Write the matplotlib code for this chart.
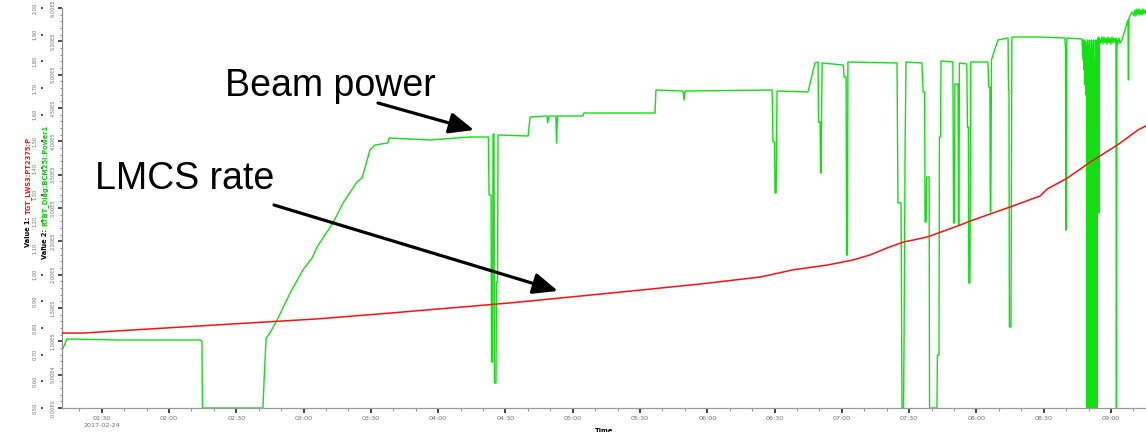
import matplotlib
matplotlib.use("Agg")
import matplotlib.pyplot as plt
from matplotlib.ticker import MultipleLocator, FixedLocator, FuncFormatter

# Time axis is minutes after midnight on 2017-02-24
time_ticks = ["01:30", "02:00", "02:30", "03:00", "03:30", "04:00", "04:30", "05:00",
              "05:30", "06:00", "06:30", "07:00", "07:30", "08:00", "08:30", "09:00"]
date_label = "2017-02-24"
t_min, t_max = 72.3, 555.6

# Value 1: TGT_LWS3:PT2375:P (LMCS rate, red)
rate_t = [72.3, 81.7, 96.8, 126.3, 156.1, 186.0, 218.5, 245.3, 272.0, 298.8,
          330.0, 356.8, 383.5, 398.2, 413.4, 425.0, 432.6, 440.1, 447.3, 458.0,
          472.7, 478.5, 493.7, 508.4, 511.5, 520.5, 530.7, 542.8, 552.1, 555.6]
rate_v = [0.781, 0.781, 0.789, 0.804, 0.819, 0.834, 0.856, 0.875, 0.894, 0.916,
          0.942, 0.965, 0.991, 1.018, 1.036, 1.055, 1.074, 1.100, 1.122, 1.141,
          1.186, 1.205, 1.250, 1.295, 1.321, 1.362, 1.422, 1.486, 1.543, 1.558]

# Value 2: RTBT_Diag:BCM25I:Power1 (beam power, green)
power_t = [
    72.3, 73.2, 74.5, 98.2, 133.8, 134.7, 134.9, 161.9, 162.4, 163.3,
    165.0, 168.2, 174.0, 179.7, 183.8, 186.0, 193.1, 197.6, 203.8, 206.1,
    209.6, 211.8, 217.6, 218.1, 236.4, 254.2,
    262.4, 262.7, 263.6, 263.8, 264.2, 264.5, 264.9, 265.1, 265.8, 266.0, 266.5, 266.7,
    280.1, 281.0, 288.6, 288.8, 289.4, 292.5, 292.8, 293.2, 304.6, 305.0, 336.7, 337.1,
    349.2, 349.6, 350.1, 388.9, 389.3, 390.0, 390.2, 390.7, 391.1,
    404.9, 406.7, 408.0, 409.4, 409.6, 410.3, 410.5, 410.7, 411.2,
    420.6, 421.0, 421.9, 422.1, 422.5, 422.7,
    444.6, 445.0, 446.4, 446.8, 447.5, 447.7, 448.2, 448.6,
    455.7, 456.2, 456.9, 457.1, 457.6, 457.8, 458.9, 459.1, 462.4, 462.6, 463.3, 463.5, 464.0, 464.2,
    469.5, 469.8, 470.2, 470.4, 471.8, 472.0, 472.2, 472.4,
    475.7, 476.0, 476.4, 476.6, 477.1, 477.5,
    485.1, 485.5, 486.0, 486.2, 486.4, 486.7, 487.8, 489.6,
    494.1, 494.3, 494.5, 494.7, 495.4, 495.8, 508.3,
    519.4, 519.7, 519.9, 520.1, 520.3,
    527.05, 527.50, 527.72, 527.94, 528.17, 528.39, 528.61, 528.84, 529.06, 529.28,
    529.50, 529.73, 529.95, 530.17, 530.40, 530.62, 530.84, 531.07, 531.29, 531.51,
    531.73, 531.96, 532.18, 532.40, 532.63, 532.85, 533.07, 533.30, 533.52, 533.74,
    533.96, 534.19,
    534.40, 534.62, 534.85, 535.52, 535.96, 536.41, 536.85, 537.30, 537.74, 538.19,
    538.63, 539.08, 539.53, 539.97, 540.42, 540.86, 541.31, 541.76, 542.20, 542.42,
    542.65, 543.09, 543.54, 543.99, 544.88, 546.22, 547.55, 547.78, 548.00, 549.34,
    550.23, 550.68, 551.12, 551.57, 552.02, 552.46, 552.91, 553.36, 553.80, 554.25,
    554.69, 555.14, 555.59,
]
power_v = [
    87000, 93000, 103500, 102000, 102000, 100500, 0, 0, 42000, 105000,
    112500, 132000, 172500, 207000, 225000, 241500, 277500, 307500, 339000, 345000,
    387000, 394500, 397500, 405000, 402000, 406500,
    406500, 319500, 319500, 69000, 69000, 411000, 411000, 37500, 37500, 189000, 189000, 409500,
    408000, 436500, 438000, 427500, 438000, 438000, 397500, 438000, 438000, 442500, 442500, 477000,
    475500, 462000, 475500, 477000, 399000, 399000, 322500, 322500, 475500,
    474000, 499500, 517500, 519000, 429000, 429000, 352500, 352500, 517500,
    514500, 496500, 496500, 229500, 229500, 519000,
    517500, 307500, 307500, 0, 0, 84000, 394500, 519000,
    517500, 474000, 474000, 279000, 279000, 346500, 346500, 0, 0, 79500, 79500, 406500, 406500, 520500,
    519000, 277500, 277500, 486000, 486000, 274500, 274500, 517500,
    516000, 421500, 421500, 187500, 187500, 519000,
    519000, 481500, 481500, 294000, 294000, 522000, 534000, 552000,
    555000, 477000, 477000, 121500, 121500, 556500, 556500,
    555000, 540000, 267000, 267000, 555000,
    553500, 522000, 552000, 507000, 552000, 484500, 549000, 469500, 544500, 0,
    552000, 0, 544500, 162000, 552000, 0, 537000, 0, 552000, 42000,
    544500, 0, 552000, 0, 522000, 0, 552000, 87000, 552000, 0,
    544500, 552000,
    556500, 292500, 555000, 547500, 556500, 546000, 556500, 547500, 555000, 546000,
    556500, 547500, 555000, 546000, 556500, 547500, 555000, 549000, 555000, 0,
    552000, 546000, 555000, 547500, 552000, 567000, 582000, 492000, 585000, 594000,
    588000, 597000, 588000, 598500, 589500, 598500, 589500, 597000, 589500, 598500,
    591000, 597000, 592500,
]

W, H = 1146, 432
fig = plt.figure(figsize=(W / 100, H / 100), dpi=100)
fig.patch.set_facecolor("white")
ax = fig.add_axes([62 / W, 24 / H, (W - 62) / W, 400 / H])
ax2 = ax.twinx()

green = "#11e011"
red = "#ff1010"
grey_txt = "#707070"

ax.plot(power_t, power_v, color=green, lw=1.0, zorder=2)
ax2.plot(rate_t, rate_v, color=red, lw=1.1, zorder=3)

ax.set_xlim(t_min, t_max)
ax.set_ylim(0, 6.0e5)
ax2.set_ylim(0.5, 2.0)

for a in (ax, ax2):
    for s in ("top", "right"):
        a.spines[s].set_visible(False)
ax2.spines["left"].set_visible(False)
ax2.spines["bottom"].set_visible(False)
ax.spines["left"].set_color("#8a8a8a")
ax.spines["bottom"].set_color("#9a9a9a")
ax.spines["left"].set_linewidth(0.9)
ax.spines["bottom"].set_linewidth(0.9)


# x axis: half-hour major ticks, 10 minute minor ticks
def to_min(s):
    h, m = s.split(":")
    return int(h) * 60 + int(m)


major_pos = [to_min(s) for s in time_ticks]
ax.xaxis.set_major_locator(FixedLocator(major_pos))
ax.set_xticklabels([time_ticks[0] + "\n" + date_label] + time_ticks[1:])
ax.xaxis.set_minor_locator(MultipleLocator(10))
ax.tick_params(axis="x", which="major", length=3.5, width=1.3, color="#333333",
               labelsize=4.6, labelcolor=grey_txt, pad=2)
ax.tick_params(axis="x", which="minor", length=2.5, width=0.8, color="#a0a0a0")
for lbl in ax.get_xticklabels():
    lbl.set_linespacing(1.6)
ax.set_xlabel("Time", fontsize=4.8, fontweight="bold", labelpad=0)


# Value 2 axis on the spine
def sci_fmt(v, pos):
    if v == 0:
        return "0.00E0"
    exp = len(str(int(v))) - 1
    return f"{v / 10 ** exp:.2f}E{exp}"


ax.yaxis.set_major_locator(MultipleLocator(5.0e4))
ax.yaxis.set_minor_locator(MultipleLocator(1.0e4))
ax.yaxis.set_major_formatter(FuncFormatter(sci_fmt))
ax.tick_params(axis="y", which="major", length=3, width=1.2, color="#333333",
               labelsize=3.6, labelcolor=grey_txt, labelrotation=90, pad=1.5)
ax.tick_params(axis="y", which="minor", length=1.8, width=0.7, color="#888888")
for lbl in ax.get_yticklabels():
    lbl.set_va("center")

# Value 1 axis, offset to the left of the spine
ax2.yaxis.tick_left()
ax2.spines["left"].set_position(("outward", 14))
ax2.yaxis.set_major_locator(MultipleLocator(0.1))
ax2.yaxis.set_major_formatter(FuncFormatter(lambda v, p: f"{v:.2f}"))
ax2.tick_params(axis="y", which="major", length=1.8, width=1.2, color="#333333",
                labelsize=3.6, labelcolor=grey_txt, labelrotation=90, pad=1.5)
for lbl in ax2.get_yticklabels():
    lbl.set_va("center")

# two-tone rotated axis titles
renderer = fig.canvas.get_renderer()


def axis_title(x_px, yc_px, head, tail, color):
    t1 = fig.text(x_px / W, 0, head, rotation=90, ha="center", va="bottom",
                  fontsize=4.8, fontweight="bold", color="black")
    t2 = fig.text(x_px / W, 0, tail, rotation=90, ha="center", va="bottom",
                  fontsize=4.8, fontweight="bold", color=color)
    h1 = t1.get_window_extent(renderer).height
    h2 = t2.get_window_extent(renderer).height
    gap = 2.5
    y0 = yc_px - (h1 + gap + h2) / 2
    t1.set_y(y0 / H)
    t2.set_y((y0 + h1 + gap) / H)


axis_title(28, H - 192, "Value 1:", "TGT_LWS3:PT2375:P", red)
axis_title(45, H - 192, "Value 2:", "RTBT_Diag:BCM25I:Power1", "#00d000")

# callouts
arrow = dict(arrowstyle="-|>,head_length=0.75,head_width=0.32", color="black",
             lw=2.3, shrinkA=0, shrinkB=0, mutation_scale=20)
ax.annotate("", xy=(256.0, 4.17e5), xycoords="data",
            xytext=(378, H - 103), textcoords="figure pixels", arrowprops=arrow)
ax2.annotate("", xy=(293.4, 0.939), xycoords="data",
             xytext=(274, H - 205), textcoords="figure pixels", arrowprops=arrow)
fig.text(225 / W, (H - 96) / H, "Beam power", fontsize=27,
         family="Liberation Sans", ha="left", va="baseline")
fig.text(95 / W, (H - 189) / H, "LMCS rate", fontsize=27,
         family="Liberation Sans", ha="left", va="baseline")

fig.savefig("out.png", dpi=100, facecolor="white")
